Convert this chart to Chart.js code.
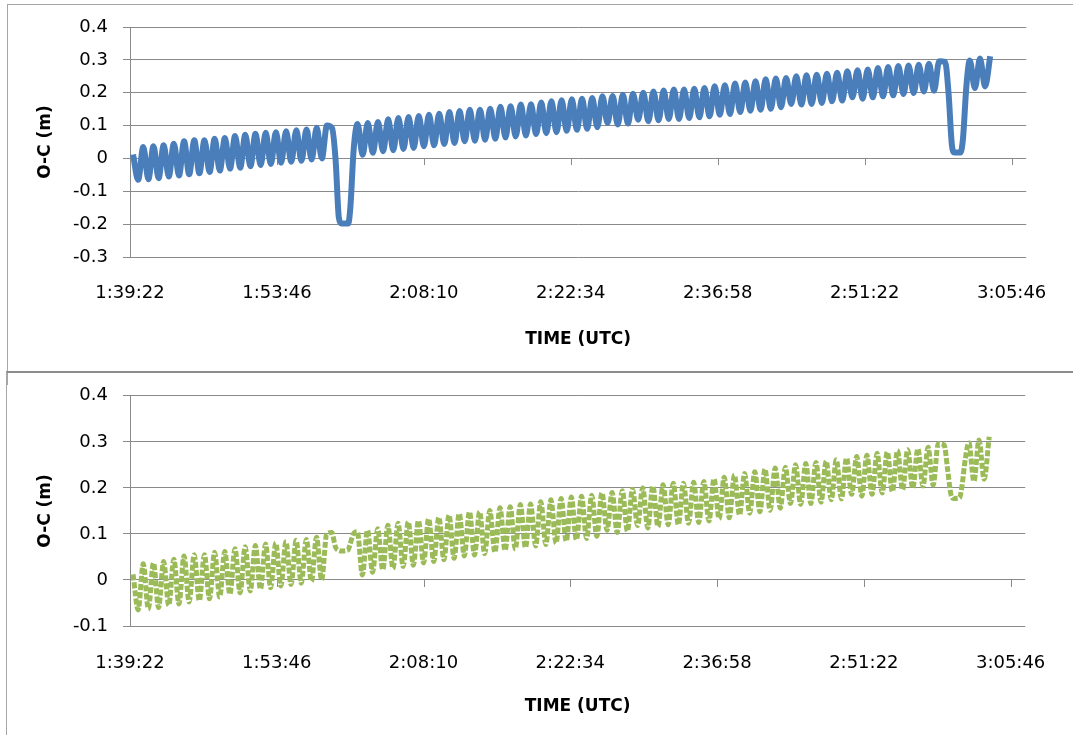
<!DOCTYPE html>
<html>
<head>
<meta charset="utf-8">
<script src="https://cdn.jsdelivr.net/npm/chart.js@4/dist/chart.umd.min.js"></script>
<style>
  html, body { margin: 0; padding: 0; background: #fff; }
  body { width: 1073px; height: 735px; position: relative; overflow: hidden; }
  .panel { position: absolute; left: 0; width: 1073px; height: 365px; }
  #frameTop { position: absolute; left: 7px; top: 4px; width: 1100px; height: 380px; border-left: 1px solid #a6a6a6; border-top: 1px solid #a6a6a6; }
  #frameBot { position: absolute; left: 6px; top: 371px; width: 1100px; height: 400px; border-left: 1px solid #a6a6a6; border-top: 2px solid #8c8c8c; }
</style>
</head>
<body>
<div id="frameTop"></div>
<div id="frameBot"></div>
<div class="panel" style="top:0"><canvas id="chartTop"></canvas></div>
<div class="panel" style="top:370px"><canvas id="chartBottom"></canvas></div>
<script>
// time axis labels (UTC) and right end of the axis (3:07:12 in seconds)
const timeLabels = ["1:39:22", "1:53:46", "2:08:10", "2:22:34", "2:36:58", "2:51:22", "3:05:46"];
const axisEndSec = 11232;

// crests and troughs of the oscillation, seconds after 0:00 UTC / metres
const waveSec = [
  5980,
  6010, 6040, 6070, 6100, 6130, 6160, 6190, 6220, 6250, 6280,
  6310, 6340, 6370, 6400, 6430, 6460, 6490, 6520, 6550, 6580,
  6610, 6640, 6670, 6700, 6730, 6760, 6790, 6820, 6850, 6880,
  6910, 6940, 6970, 7000, 7030, 7060, 7090, 7120,
  7300,
  7330, 7360, 7390, 7420, 7450, 7480, 7510, 7540, 7570, 7600,
  7630, 7660, 7690, 7720, 7750, 7780, 7810, 7840, 7870, 7900,
  7930, 7960, 7990, 8020, 8050, 8080, 8110, 8140, 8170, 8200,
  8230, 8260, 8290, 8320, 8350, 8380, 8410, 8440, 8470, 8500,
  8530, 8560, 8590, 8620, 8650, 8680, 8710, 8740, 8770, 8800,
  8830, 8860, 8890, 8920, 8950, 8980, 9010, 9040, 9070, 9100,
  9130, 9160, 9190, 9220, 9250, 9280, 9310, 9340, 9370, 9400,
  9430, 9460, 9490, 9520, 9550, 9580, 9610, 9640, 9670, 9700,
  9730, 9760, 9790, 9820, 9850, 9880, 9910, 9940, 9970, 10000,
  10030, 10060, 10090, 10120, 10150, 10180, 10210, 10240, 10270, 10300,
  10330, 10360, 10390, 10420, 10450, 10480, 10510, 10540, 10570, 10600,
  10630, 10660, 10690, 10720,
  10930, 10960, 10990, 11020
];
const waveOC = [
  0.012,
  -0.065, 0.035, -0.063, 0.037, -0.060, 0.040, -0.055, 0.045, -0.052, 0.052,
  -0.048, 0.055, -0.045, 0.055, -0.041, 0.060, -0.037, 0.062, -0.031, 0.068,
  -0.028, 0.072, -0.024, 0.075, -0.020, 0.078, -0.017, 0.080, -0.013, 0.083,
  -0.010, 0.086, -0.007, 0.088, -0.003, 0.093, 0.000, 0.100,
  0.105,
  0.011, 0.108, 0.017, 0.111, 0.022, 0.119, 0.025, 0.123, 0.029, 0.126,
  0.032, 0.129, 0.037, 0.133, 0.040, 0.136, 0.044, 0.141, 0.047, 0.144,
  0.052, 0.148, 0.054, 0.148, 0.057, 0.151, 0.060, 0.157, 0.064, 0.159,
  0.067, 0.164, 0.070, 0.165, 0.074, 0.170, 0.077, 0.174, 0.080, 0.177,
  0.084, 0.180, 0.087, 0.182, 0.090, 0.184, 0.095, 0.189, 0.108, 0.190,
  0.103, 0.194, 0.106, 0.197, 0.118, 0.200, 0.113, 0.204, 0.116, 0.207,
  0.120, 0.210, 0.120, 0.210, 0.123, 0.212, 0.125, 0.214, 0.128, 0.220,
  0.133, 0.223, 0.135, 0.228, 0.141, 0.231, 0.145, 0.235, 0.148, 0.241,
  0.151, 0.243, 0.156, 0.245, 0.166, 0.250, 0.164, 0.253, 0.166, 0.255,
  0.169, 0.258, 0.174, 0.261, 0.176, 0.265, 0.186, 0.268, 0.182, 0.271,
  0.186, 0.275, 0.189, 0.278, 0.192, 0.281, 0.196, 0.283, 0.199, 0.285,
  0.204, 0.288, 0.206, 0.296,
  0.214, 0.304, 0.219, 0.311
];

// the two dips differ between the panels
const dip1Sec = [7150, 7171, 7190, 7205, 7245, 7258, 7277];
const dip1Top = [0.092, -0.005, -0.180, -0.198, -0.198, -0.147, 0.026];
const dip1Bottom = [0.103, 0.072, 0.064, 0.063, 0.065, 0.078, 0.100];
const dip2Sec = [10755, 10775, 10795, 10810, 10845, 10860, 10880, 10900];
const dip2Top = [0.294, 0.200, 0.040, 0.018, 0.018, 0.060, 0.220, 0.298];
const dip2Bottom = [0.293, 0.240, 0.185, 0.177, 0.178, 0.205, 0.265, 0.298];

const gridColor = "#8a8a8a";
const tickFont = { family: "DejaVu Sans", size: 18 };
const titleFont = { family: "DejaVu Sans", size: 17, weight: "bold" };

function toSec(s) {
  const p = s.split(":").map(Number);
  return p[0] * 3600 + p[1] * 60 + p[2];
}
const tickSec = timeLabels.map(toSec);

function series(dipSec, dipVal) {
  const pts = waveSec.map((t, i) => ({ x: t, y: waveOC[i] }));
  dipSec.forEach((t, i) => pts.push({ x: t, y: dipVal[i] }));
  return pts.sort((a, b) => a.x - b.x);
}

// small tick marks hanging below the zero line, as on the original
const zeroTicks = {
  id: "zeroTicks",
  beforeDatasetsDraw(chart) {
    const { ctx, scales: { x, y } } = chart;
    const y0 = Math.round(y.getPixelForValue(0));
    ctx.save();
    ctx.strokeStyle = gridColor;
    ctx.lineWidth = 1;
    tickSec.forEach((t) => {
      const px = Math.round(x.getPixelForValue(t)) + 0.5;
      ctx.beginPath();
      ctx.moveTo(px, y0);
      ctx.lineTo(px, y0 + 7);
      ctx.stroke();
    });
    ctx.restore();
  }
};

function makeChart(id, data, color, yMin, plotTop, plotBottom, labelPad, titlePad, lineStyle) {
  return new Chart(document.getElementById(id), {
    type: "scatter",
    data: {
      datasets: [Object.assign({
        data: data,
        borderColor: color,
        backgroundColor: color,
        showLine: true,
        pointRadius: 0,
        cubicInterpolationMode: "monotone",
        fill: false
      }, lineStyle)]
    },
    options: {
      responsive: true,
      maintainAspectRatio: false,
      animation: false,
      layout: { padding: { top: plotTop, right: 42, left: 0, bottom: 0 } },
      plugins: { legend: { display: false }, tooltip: { enabled: false } },
      scales: {
        x: {
          type: "linear",
          min: tickSec[0],
          max: axisEndSec,
          afterBuildTicks: (s) => { s.ticks = tickSec.map((v) => ({ value: v })); },
          afterFit: (s) => { s.height = 365 - plotBottom; },
          grid: { display: false, drawTicks: false },
          border: { display: false },
          ticks: {
            padding: labelPad, color: "#000", font: tickFont,
            maxRotation: 0, autoSkip: false,
            callback: (v, i) => timeLabels[i]
          },
          title: { display: true, text: "TIME (UTC)", color: "#000", font: titleFont, padding: { top: 0, bottom: titlePad } }
        },
        y: {
          min: yMin,
          max: 0.4,
          afterFit: (s) => { s.width = 130; },
          border: { display: true, color: gridColor, width: 1 },
          grid: { color: gridColor, tickLength: 7, drawTicks: true },
          ticks: {
            stepSize: 0.1, padding: 15, color: "#000", font: tickFont,
            callback: (v) => String(Math.round(v * 10) / 10)
          },
          title: { display: true, text: "O-C (m)", color: "#000", font: titleFont, padding: { top: 35, bottom: 0 } }
        }
      }
    },
    plugins: [zeroTicks]
  });
}

makeChart("chartTop", series(dip1Sec.concat(dip2Sec), dip1Top.concat(dip2Top)),
  "#4a7ebb", -0.3, 27, 257, 26, 15, { borderWidth: 6 });
makeChart("chartBottom", series(dip1Sec.concat(dip2Sec), dip1Bottom.concat(dip2Bottom)),
  "#9bbb59", -0.1, 25, 256, 27, 18, { borderWidth: 5, borderDash: [6, 2] });
</script>
</body>
</html>
